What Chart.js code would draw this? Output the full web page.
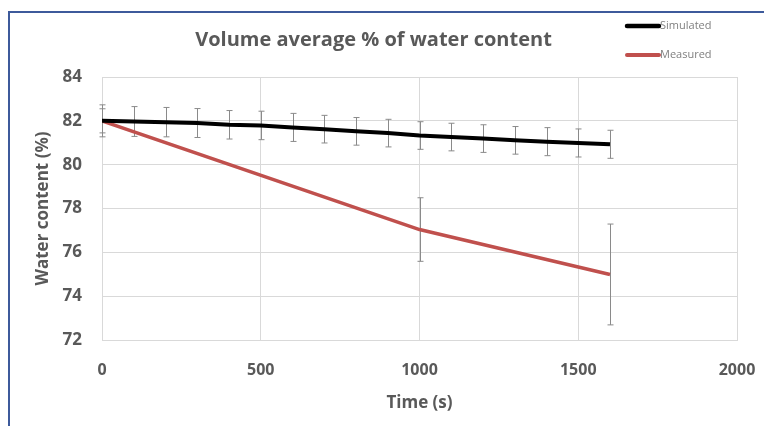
<!DOCTYPE html>
<html>
<head>
<meta charset="utf-8">
<script src="https://cdn.jsdelivr.net/npm/chart.js@4.4.0/dist/chart.umd.min.js"></script>
<style>
  html, body { margin: 0; padding: 0; background: #fff; }
  #wrap { position: relative; width: 764px; height: 426px; }
  #frame { position: absolute; left: 8px; top: 11px; right: 0; bottom: 0;
           border-top: 2px solid #3d5a9b; border-left: 2px solid #3d5a9b; pointer-events: none; }
</style>
</head>
<body>
<div id="wrap">
  <canvas id="chart" width="764" height="426"></canvas>
  <div id="frame"></div>
</div>
<script>
// time (s) and water content (%)
var simTime = [0, 100, 200, 300, 400, 500, 600, 700, 800, 900, 1000, 1100, 1200, 1300, 1400, 1500, 1600];
var simValues = [82.0, 81.97, 81.94, 81.9, 81.82, 81.79, 81.7, 81.62, 81.52, 81.44, 81.33, 81.26, 81.19, 81.11, 81.05, 80.99, 80.93];
var simError = [0.73, 0.68, 0.67, 0.66, 0.65, 0.65, 0.64, 0.63, 0.63, 0.63, 0.63, 0.63, 0.63, 0.63, 0.64, 0.64, 0.64];

var measTime = [0, 1000, 1600];
var measValues = [82.0, 77.04, 74.99];
var measError = [0.55, 1.45, 2.3];

var xTicks = [0, 500, 1000, 1500, 2000];
var yTicks = [72, 74, 76, 78, 80, 82, 84];

function toPoints(xs, ys) {
  return xs.map(function (x, i) { return { x: x, y: ys[i] }; });
}

var grey = '#595959';

// vertical error bars with caps, drawn under the lines
var errorBars = {
  id: 'errorBars',
  beforeDatasetsDraw: function (chart) {
    var ctx = chart.ctx;
    var xs = chart.scales.x, ys = chart.scales.y;
    ctx.save();
    ctx.strokeStyle = '#8a8a8a';
    ctx.lineWidth = 1;
    chart.data.datasets.forEach(function (ds) {
      ds.data.forEach(function (p, i) {
        var e = ds.errors[i];
        var px = Math.round(xs.getPixelForValue(p.x)) + 0.5;
        var top = ys.getPixelForValue(p.y + e);
        var bot = ys.getPixelForValue(p.y - e);
        ctx.beginPath();
        ctx.moveTo(px, top); ctx.lineTo(px, bot);
        ctx.moveTo(px - 3, top); ctx.lineTo(px + 3, top);
        ctx.moveTo(px - 3, bot); ctx.lineTo(px + 3, bot);
        ctx.stroke();
      });
    });
    ctx.restore();
  }
};

// small legend in the top right corner
var cornerLegend = {
  id: 'cornerLegend',
  afterDraw: function (chart) {
    var ctx = chart.ctx;
    ctx.save();
    ctx.font = '11px "Open Sans"';
    ctx.textBaseline = 'middle';
    ctx.fillStyle = '#7f7f7f';
    chart.data.datasets.forEach(function (ds, i) {
      var y = 26 + i * 29;
      ctx.strokeStyle = ds.borderColor;
      ctx.lineWidth = ds.borderWidth + 0.5;
      ctx.lineCap = 'round';
      ctx.beginPath();
      ctx.moveTo(627, y); ctx.lineTo(659, y);
      ctx.stroke();
      ctx.fillText(ds.label, 660, y);
    });
    ctx.restore();
  }
};

var ctx = document.getElementById('chart');
var myChart = new Chart(ctx, {
  type: 'line',
  data: {
    datasets: [{
      label: 'Simulated',
      data: toPoints(simTime, simValues),
      errors: simError,
      borderColor: '#000000',
      borderWidth: 4,
      pointRadius: 0,
      tension: 0,
      fill: false
    }, {
      label: 'Measured',
      data: toPoints(measTime, measValues),
      errors: measError,
      borderColor: '#c0504d',
      borderWidth: 3.5,
      pointRadius: 0,
      tension: 0,
      fill: false
    }]
  },
  options: {
    responsive: false,
    animation: false,
    layout: { padding: { left: 10, right: 27, top: 0, bottom: 0 } },
    plugins: {
      legend: { display: false },
      tooltip: { enabled: false },
      title: {
        display: true,
        text: 'Volume average % of water content',
        color: grey,
        font: { family: 'Open Sans', size: 20, weight: 'bold' },
        padding: { top: 28, bottom: 25 }
      }
    },
    scales: {
      x: {
        type: 'linear',
        min: 0,
        max: 2000,
        afterBuildTicks: function (s) { s.ticks = xTicks.map(function (v) { return { value: v }; }); },
        afterFit: function (s) { s.height = 86; },
        grid: { color: '#d9d9d9', tickColor: 'transparent', tickLength: 16 },
        border: { color: '#d9d9d9' },
        ticks: {
          color: grey, padding: 5, maxRotation: 0,
          font: { family: 'Open Sans', size: 16, weight: 'bold' },
          callback: function (v) { return String(v); }
        },
        title: {
          display: true,
          text: 'Time (s)',
          color: grey,
          font: { family: 'Open Sans', size: 17, weight: 'bold' },
          padding: { top: 0, bottom: 13 }
        }
      },
      y: {
        min: 72,
        max: 84,
        afterBuildTicks: function (s) { s.ticks = yTicks.map(function (v) { return { value: v }; }); },
        afterFit: function (s) { s.width = 92; },
        grid: { color: '#d9d9d9', tickColor: 'transparent', tickLength: 14 },
        border: { color: '#d9d9d9' },
        ticks: { color: grey, padding: 6, font: { family: 'Open Sans', size: 17, weight: 'bold' } },
        title: {
          display: true,
          text: 'Water content (%)',
          color: grey,
          font: { family: 'Open Sans', size: 17, weight: 'bold' },
          padding: { top: 23, bottom: 0 }
        }
      }
    }
  },
  plugins: [errorBars, cornerLegend]
});
</script>
</body>
</html>
